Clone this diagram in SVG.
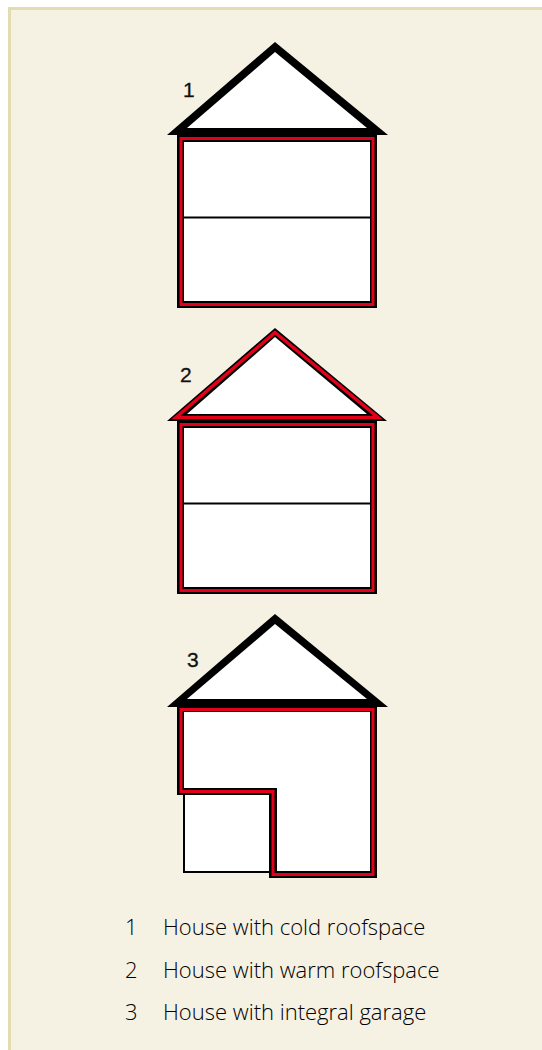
<svg xmlns="http://www.w3.org/2000/svg" width="542" height="1050" viewBox="0 0 542 1050">
<style>
.k{fill:#000}
.w{fill:#fff}
.r{fill:none;stroke:#e2001a;stroke-width:3}
.b{fill:none;stroke:#000;stroke-width:2}
.n{font:21px "Liberation Sans",Arial,sans-serif;fill:#111;stroke:#111;stroke-width:.3}
.t{font:300 22px "Open Sans","Noto Sans",sans-serif;fill:#000}
</style>
<rect width="542" height="1050" fill="#fff"/>
<path d="M8 1050V7H542V10H11V1050Z" fill="#e2dcb0"/>
<rect x="11" y="10" width="531" height="1040" fill="#f5f1e3"/>
<g id="house1">
<rect x="177" y="135" width="200" height="173" class="k"/>
<rect x="184" y="142" width="186" height="159" class="w"/>
<path d="M181 138.500H373V304.500H181Z" class="r"/>
<path d="M184 217.500H370" class="b"/>
<path d="M275 42L388 135H167Z" class="k"/>
<path d="M275 52L367 128H187Z" class="w"/>
<text x="183" y="97" class="n">1</text>
</g>
<g id="house2">
<rect x="177" y="421" width="200" height="173" class="k"/>
<rect x="184" y="428" width="186" height="159" class="w"/>
<path d="M181 424.500H373V590.500H181Z" class="r"/>
<path d="M184 503.500H370" class="b"/>
<path d="M275 328L387 421H167Z" class="k"/>
<path d="M275 337L367 414H187Z" class="w"/>
<path d="M275 332.500L378 417.500H176Z" class="r" style="stroke-width:3.500"/>
<text x="180" y="382" class="n">2</text>
</g>
<g id="house3">
<rect x="184" y="790" width="90" height="82" class="w" stroke="#000" stroke-width="2"/>
<path d="M177 707H377V878H269V795H177Z" class="k"/>
<path d="M184 712H370V871H277V788H184Z" class="w"/>
<path d="M181 709.500H373V874.500H273V791.500H181Z" class="r"/>
<path d="M275 614L388 707H167Z" class="k"/>
<path d="M275 624L367 699H187Z" class="w"/>
<text x="187" y="667" class="n">3</text>
</g>
<g id="legend">
<text x="125" y="935" class="t">1</text><text x="163" y="935" class="t">House with cold roofspace</text>
<text x="125" y="978" class="t">2</text><text x="163" y="978" class="t">House with warm roofspace</text>
<text x="125" y="1020" class="t">3</text><text x="163" y="1020" class="t">House with integral garage</text>
</g>
</svg>
